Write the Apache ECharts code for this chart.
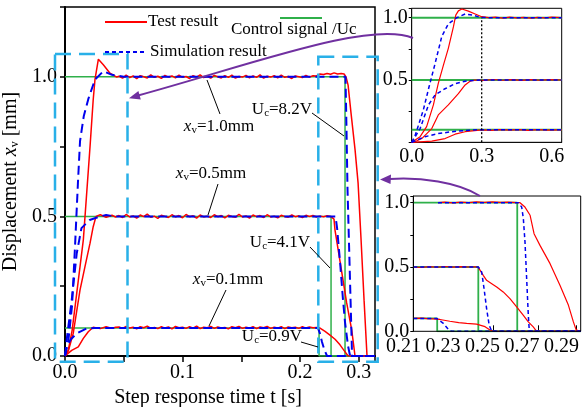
<!DOCTYPE html>
<html>
<head>
<meta charset="utf-8">
<script src="https://cdn.jsdelivr.net/npm/echarts@6/dist/echarts.min.js"></script>
<style>html,body{margin:0;padding:0;background:#fff;}#c{width:582px;height:407px;}</style>
</head>
<body>
<div id="c"></div>
<script>
// ---------- main chart (apparent time axis as drawn) ----------
const mainXLabelValues = [0, 0.1, 0.2, 0.25];
const mainXLabelTexts = ['0.0', '0.1', '0.2', '0.3'];
const mainYLabelValues = [0, 0.5, 1.0];

const tFlat = [0.046,0.049,0.052,0.055,0.058,0.061,0.064,0.067,0.070,0.073,0.076,0.079,0.082,0.085,0.088,0.091,0.094,0.097,0.100,0.103,0.106,0.109,0.112,0.115,0.118,0.121,0.124,0.127,0.130,0.133,0.136,0.139,0.142,0.145,0.148,0.151,0.154,0.157,0.160,0.163,0.166,0.169,0.172,0.175,0.178,0.181,0.184,0.187,0.190,0.193,0.196,0.199,0.202,0.205,0.208,0.211,0.214,0.217,0.220,0.223,0.226,0.229,0.232,0.235];

const red10Rise = [[0,0],[0.0028,0.021],[0.006,0.09],[0.01,0.225],[0.0156,0.416],[0.0213,0.75],[0.024,0.918],[0.0255,0.99],[0.0284,1.063],[0.0326,1.043],[0.0383,1.013],[0.044,0.999]];
const red10Flat = [1.002,0.995,1.006,0.997,1.003,0.993,1.004,1.000,0.996,1.007,0.998,1.002,0.994,1.005,0.999,1.003,0.996,1.006,0.998,1.001,0.994,1.004,0.999,1.007,0.997,1.002,0.995,1.005,1.000,0.996,1.004,0.998,1.006,0.995,1.001,0.999,1.005,0.996,1.003,0.998,1.007,0.995,1.002,0.999,1.004,0.996,1.006,0.998,1.001,0.994,1.003,1.000,0.997,1.005,0.999,1.004,1.003,1.010,1.008,1.012,1.009,1.014,1.010,1.012];
const red10Fall = [[0.2375,1.01],[0.2391,1.0],[0.2409,0.97],[0.2434,0.87],[0.2468,0.74],[0.2494,0.62],[0.2519,0.42],[0.2545,0.2],[0.257,0.0],[0.2638,0.0]];

const red05Rise = [[0,0],[0.003,0.02],[0.007,0.081],[0.0128,0.237],[0.017,0.32],[0.0213,0.404],[0.024,0.463],[0.0264,0.5],[0.03,0.506],[0.035,0.497],[0.04,0.504],[0.043,0.498]];
const red05Flat = [0.503,0.496,0.507,0.498,0.502,0.494,0.505,0.499,0.508,0.497,0.501,0.493,0.504,0.500,0.496,0.506,0.498,0.503,0.495,0.507,0.499,0.502,0.494,0.505,0.498,0.501,0.496,0.506,0.499,0.503,0.495,0.504,0.500,0.497,0.507,0.498,0.502,0.494,0.505,0.499,0.503,0.496,0.506,0.498,0.501,0.495,0.504,0.500,0.497,0.505,0.499,0.502,0.496,0.504,0.500,0.503,0.498,0.501,0.499,0.502,0.500];
const red05Fall = [[0.2272,0.5],[0.2289,0.49],[0.2298,0.45],[0.234,0.34],[0.2397,0.19],[0.244,0.093],[0.2468,0.0],[0.2638,0.0]];

const red01Rise = [[0,0],[0.0057,0.02],[0.0113,0.033],[0.0156,0.063],[0.0198,0.087],[0.024,0.103],[0.03,0.098],[0.035,0.105],[0.04,0.099],[0.043,0.103]];
const red01Flat = [0.104,0.099,0.106,0.100,0.103,0.097,0.105,0.101,0.107,0.099,0.102,0.098,0.105,0.100,0.104,0.097,0.106,0.101,0.103,0.099,0.105,0.100,0.107,0.098,0.103,0.101,0.106,0.099,0.104,0.100,0.102,0.097,0.105,0.101,0.106,0.099,0.103,0.100,0.105,0.098,0.104,0.101,0.106,0.099,0.103,0.100,0.105,0.098,0.104,0.101,0.103,0.099,0.105,0.100,0.104,0.101,0.102];
const red01Fall = [[0.217,0.1],[0.2213,0.088],[0.2255,0.075],[0.2298,0.06],[0.234,0.04],[0.2374,0.02],[0.2409,0.0],[0.2638,0.0]];

const blue10Main = [[0,0],[0.003,0.06],[0.006,0.18],[0.0085,0.39],[0.011,0.62],[0.0128,0.77],[0.016,0.86],[0.0198,0.92],[0.0255,0.99],[0.0326,1.02],[0.04,1.007],[0.05,1.0],[0.2387,1.0],[0.2396,0.8],[0.2404,0.6],[0.2417,0.4],[0.243,0.2],[0.2443,0.0],[0.2638,0.0]];
const blue05Main = [[0,0],[0.0014,0.057],[0.0057,0.2],[0.01,0.368],[0.014,0.458],[0.021,0.487],[0.03,0.5],[0.035,0.505],[0.042,0.5],[0.2302,0.5],[0.2315,0.46],[0.234,0.34],[0.2366,0.2],[0.2383,0.12],[0.2409,0.035],[0.2426,0.0],[0.2638,0.0]];
const blue01Main = [[0,0],[0.0014,0.033],[0.005,0.06],[0.01,0.081],[0.0184,0.099],[0.025,0.1],[0.2153,0.1],[0.217,0.08],[0.2187,0.05],[0.2209,0.02],[0.223,0.0],[0.2638,0.0]];

const green10Main = [[0,1],[0.2383,1],[0.2383,0],[0.2638,0]];
const green05Main = [[0,0.5],[0.2264,0.5],[0.2264,0],[0.2638,0]];
const green01Main = [[0,0.1],[0.2162,0.1],[0.2162,0],[0.2638,0]];

// ---------- top inset (rise) ----------
const topXLabelValues = [0, 0.3, 0.6];
const topYLabelValues = [0.5, 1.0];
const topRed10 = [[0,0],[0.007,0.005],[0.036,0.045],[0.064,0.126],[0.093,0.30],[0.114,0.473],[0.136,0.62],[0.157,0.754],[0.179,0.928],[0.189,1.021],[0.2,1.055],[0.215,1.07],[0.243,1.053],[0.272,1.03],[0.3,1.008],[0.33,1.0],[0.36,1.004],[0.39,0.997],[0.42,1.004],[0.45,0.998],[0.48,1.003],[0.51,0.996],[0.54,1.003],[0.57,0.998],[0.6,1.004],[0.643,1.0]];
const topBlue10 = [[0,0],[0.014,0.05],[0.05,0.26],[0.075,0.45],[0.1,0.63],[0.129,0.85],[0.157,0.95],[0.193,1.0],[0.229,1.03],[0.265,1.02],[0.293,1.003],[0.34,1.0],[0.643,1.0]];
const topRed05 = [[0,0],[0.02,0.01],[0.043,0.03],[0.086,0.11],[0.114,0.22],[0.157,0.3],[0.2,0.39],[0.229,0.46],[0.25,0.49],[0.27,0.5],[0.31,0.497],[0.35,0.504],[0.39,0.498],[0.43,0.503],[0.47,0.497],[0.51,0.503],[0.55,0.498],[0.59,0.503],[0.643,0.5]];
const topBlue05 = [[0,0],[0.007,0.02],[0.036,0.11],[0.072,0.3],[0.1,0.38],[0.143,0.43],[0.186,0.47],[0.229,0.49],[0.272,0.497],[0.3,0.5],[0.643,0.5]];
const topRed01 = [[0,0],[0.086,0.01],[0.143,0.03],[0.186,0.065],[0.229,0.085],[0.27,0.094],[0.3,0.1],[0.34,0.096],[0.38,0.102],[0.42,0.097],[0.46,0.101],[0.5,0.096],[0.54,0.102],[0.58,0.097],[0.643,0.1]];
const topBlue01 = [[0,0],[0.057,0.045],[0.114,0.07],[0.172,0.085],[0.229,0.094],[0.28,0.1],[0.643,0.1]];
const topGreenLevels = [1.0, 0.5, 0.1];
const topMarker = [[0.3,0],[0.3,1.0]];

// ---------- bottom inset (fall) ----------
const botXLabelValues = [0.21, 0.23, 0.25, 0.27, 0.29];
const botXTickValues = [0.2555, 0.2782, 0.2977];
const botYLabelValues = [0, 0.5, 1.0];
const botGreen10 = [[0.215,1],[0.2676,1],[0.2676,0],[0.2997,0]];
const botGreen05 = [[0.215,0.5],[0.2479,0.5],[0.2479,0],[0.2997,0]];
const botGreen01 = [[0.215,0.1],[0.2271,0.1],[0.2271,0],[0.2997,0]];
const botRed10 = [[0.2275,1.0],[0.231,1.004],[0.235,0.998],[0.239,1.005],[0.243,1.0],[0.247,1.006],[0.251,1.002],[0.255,1.007],[0.259,1.003],[0.263,1.005],[0.2675,1.001],[0.269,1.0],[0.2715,0.966],[0.2741,0.902],[0.2761,0.759],[0.2791,0.668],[0.2842,0.526],[0.2892,0.358],[0.2935,0.202],[0.296,0.073],[0.2973,0.016],[0.2985,0],[0.2997,0]];
const botBlue10 = [[0.2275,1.0],[0.2681,1.0],[0.26985,0.966],[0.27068,0.876],[0.27152,0.694],[0.27236,0.409],[0.2732,0.124],[0.27371,0],[0.2997,0]];
const botRed05 = [[0.215,0.5],[0.219,0.496],[0.223,0.503],[0.227,0.498],[0.231,0.504],[0.235,0.499],[0.239,0.503],[0.243,0.5],[0.2465,0.502],[0.2479,0.497],[0.2487,0.492],[0.2504,0.435],[0.2521,0.396],[0.2547,0.37],[0.2572,0.344],[0.2605,0.306],[0.2639,0.254],[0.2673,0.189],[0.2707,0.124],[0.2732,0.073],[0.2757,0.034],[0.2774,0],[0.2997,0]];
const botBlue05 = [[0.215,0.5],[0.2479,0.5],[0.2496,0.461],[0.2508,0.332],[0.2521,0.176],[0.2534,0.047],[0.2547,0],[0.2997,0]];
const botRed01 = [[0.215,0.1],[0.219,0.102],[0.222,0.098],[0.2251,0.096],[0.2285,0.092],[0.2335,0.078],[0.238,0.068],[0.242,0.062],[0.247,0.056],[0.2513,0.036],[0.2538,0.01],[0.2555,0],[0.2997,0]];
const botBlue01 = [[0.215,0.1],[0.2268,0.1],[0.2302,0.062],[0.2327,0.016],[0.2344,0],[0.2997,0]];

// ---------- styling ----------
const FONT = 'Liberation Serif';
const RED = '#ff0000', BLUE = '#0000ee', GREEN = '#2fb04a', CYAN = '#29b0e8', PURPLE = '#7030a0';

function withFlat(rise, times, vals, fall) {
  const flat = [];
  const n = Math.min(times.length, vals.length);
  for (let i = 0; i < n; i++) flat.push([times[i], vals[i]]);
  return rise.concat(flat, fall);
}
function ln(data, color, width, type, gi, z) {
  return { type: 'line', data: data, xAxisIndex: gi, yAxisIndex: gi, symbol: 'none', silent: true,
    animation: false, z: z || 2, lineStyle: { color: color, width: width, type: type || 'solid' } };
}
function findText(vals, texts, v) {
  for (let i = 0; i < vals.length; i++) if (Math.abs(vals[i] - v) < 1e-9) return texts[i];
  return '';
}
const labelStyle = { fontFamily: FONT, fontSize: 20, color: '#000' };

const series = [
  ln(green10Main, GREEN, 1.5, 'solid', 0, 2), ln(green05Main, GREEN, 1.5, 'solid', 0, 2), ln(green01Main, GREEN, 1.5, 'solid', 0, 2),
  ln(withFlat(red10Rise, tFlat, red10Flat, red10Fall), RED, 1.5, 'solid', 0, 3),
  ln(withFlat(red05Rise, tFlat, red05Flat, red05Fall), RED, 1.5, 'solid', 0, 3),
  ln(withFlat(red01Rise, tFlat, red01Flat, red01Fall), RED, 1.5, 'solid', 0, 3),
  ln(blue10Main, BLUE, 2, [9, 5], 0, 4), ln(blue05Main, BLUE, 2, [9, 5], 0, 4), ln(blue01Main, BLUE, 2, [9, 5], 0, 4),
];
topGreenLevels.forEach(L => series.push(ln([[0, L], [0.643, L]], GREEN, 2, 'solid', 1, 2)));
[topRed10, topRed05, topRed01].forEach(d => series.push(ln(d, RED, 1.2, 'solid', 1, 3)));
[topBlue10, topBlue05, topBlue01].forEach(d => series.push(ln(d, BLUE, 1.5, [4, 3], 1, 4)));
series.push(ln(topMarker, '#000', 1.3, [2, 2], 1, 5));
[botGreen10, botGreen05, botGreen01].forEach(d => series.push(ln(d, GREEN, 1.8, 'solid', 2, 2)));
[botRed10, botRed05, botRed01].forEach(d => series.push(ln(d, RED, 1.2, 'solid', 2, 3)));
[botBlue10, botBlue05, botBlue01].forEach(d => series.push(ln(d, BLUE, 1.5, [4, 3], 2, 4)));

const richSub = {
  a: { fontFamily: FONT, fontSize: 17, color: '#000' },
  i: { fontFamily: FONT, fontSize: 17, fontStyle: 'italic', color: '#000' },
  s: { fontFamily: FONT, fontSize: 11, color: '#000', verticalAlign: 'bottom', padding: [6, 0, 0, 0] }
};
function annot(txt, x, y) {
  return { type: 'text', z: 100, style: { text: txt, x: x, y: y, align: 'center', verticalAlign: 'middle', rich: richSub } };
}
function seg(x1, y1, x2, y2, color, w, dash) {
  return { type: 'line', z: 100, shape: { x1, y1, x2, y2 }, style: { stroke: color, lineWidth: w, lineDash: dash || null } };
}
function txt(t, x, y, size) {
  return { type: 'text', z: 100, style: { text: t, x: x, y: y, align: 'left', verticalAlign: 'middle', fontFamily: FONT, fontSize: size, fill: '#000' } };
}

const graphic = [
  // legend
  seg(105, 22, 147, 22, RED, 2), txt('Test result', 148, 22, 17),
  seg(105, 52, 147, 52, BLUE, 2, [4, 3]), txt('Simulation result', 150, 52, 17),
  seg(280, 18, 322, 18, GREEN, 2), txt('Control signal /Uc', 231, 30, 17),
  // annotations
  annot('{i|x}{s|v}{a|=1.0mm}', 219, 127), seg(207, 80, 220, 114, '#000', 1),
  annot('{a|U}{s|c}{a|=8.2V}', 282, 110), seg(312, 113, 344, 136, '#000', 1),
  annot('{i|x}{s|v}{a|=0.5mm}', 211, 174), seg(218, 184, 208, 215, '#000', 1),
  annot('{a|U}{s|c}{a|=4.1V}', 280, 243), seg(310, 247, 330, 268, '#000', 1),
  annot('{i|x}{s|v}{a|=0.1mm}', 228, 280), seg(226, 290, 209, 326, '#000', 1),
  annot('{a|U}{s|c}{a|=0.9V}', 272, 337), seg(301, 342, 318, 347, '#000', 1),
  // dashed zoom frames
  { type: 'rect', z: 90, shape: { x: 55, y: 54, width: 72.5, height: 307.7 }, style: { fill: 'none', stroke: CYAN, lineWidth: 2.5, lineDash: [16, 8] } },
  { type: 'rect', z: 90, shape: { x: 318.3, y: 56.7, width: 59.4, height: 305 }, style: { fill: 'none', stroke: CYAN, lineWidth: 2.5, lineDash: [16, 8] } },
  // bottom inset frame
  { type: 'rect', z: 50, shape: { x: 413.3, y: 196, width: 167.4, height: 135.3 }, style: { fill: 'none', stroke: '#000', lineWidth: 1 } },
  // arrows
  { type: 'bezierCurve', z: 110, shape: { x1: 413, y1: 38, cpx1: 370, cpy1: 20, cpx2: 250, cpy2: 65, x2: 138, y2: 95.5 }, style: { fill: 'none', stroke: PURPLE, lineWidth: 2 } },
  { type: 'polygon', z: 110, shape: { points: [[129, 98.3], [138.4, 91.0], [140.8, 99.6]] }, style: { fill: PURPLE } },
  { type: 'bezierCurve', z: 110, shape: { x1: 480, y1: 196, cpx1: 458, cpy1: 182, cpx2: 420, cpy2: 177, x2: 390, y2: 179 }, style: { fill: 'none', stroke: PURPLE, lineWidth: 2 } },
  { type: 'polygon', z: 110, shape: { points: [[380, 179.5], [391, 174.5], [390.5, 184]] }, style: { fill: PURPLE } }
];

const option = {
  backgroundColor: '#fff',
  animation: false,
  grid: [
    { left: 65, top: 7, width: 310, height: 349, show: true, borderColor: '#000', borderWidth: 1.5, backgroundColor: 'transparent', outerBoundsMode: 'none', containLabel: false },
    { left: 411.7, top: 8.3, width: 150, height: 134, show: true, borderColor: '#000', borderWidth: 1, backgroundColor: '#fff', z: 1, outerBoundsMode: 'none', containLabel: false },
    { left: 403.4, top: 196, width: 177.3, height: 135.3, show: false, outerBoundsMode: 'none', containLabel: false }
  ],
  xAxis: [
    { gridIndex: 0, type: 'value', min: 0, max: 0.2638, interval: 0.05,
      axisLine: { show: true, lineStyle: { color: '#000', width: 2 } },
      axisTick: { show: true, length: 6, lineStyle: { color: '#000', width: 1.5 } },
      axisLabel: Object.assign({ customValues: mainXLabelValues, margin: 7,
        formatter: v => findText(mainXLabelValues, mainXLabelTexts, v) }, labelStyle),
      splitLine: { show: false },
      name: 'Step response time t [s]', nameLocation: 'middle', nameGap: 26,
      nameTextStyle: { fontFamily: FONT, fontSize: 20, color: '#000', padding: [0, 24, 0, 0] } },
    { gridIndex: 1, type: 'value', min: 0, max: 0.643, interval: 0.05,
      axisLine: { show: true, lineStyle: { color: '#000', width: 1 } },
      axisTick: { show: true, inside: true, length: 4, lineStyle: { color: '#000', width: 1 } },
      axisLabel: Object.assign({ customValues: topXLabelValues, margin: 4, formatter: v => v.toFixed(1) }, labelStyle),
      splitLine: { show: false } },
    { gridIndex: 2, type: 'value', min: 0.21, max: 0.2997,
      axisLine: { show: false },
      axisTick: { show: true, inside: true, length: 6, customValues: botXTickValues, lineStyle: { color: '#000', width: 1 } },
      axisLabel: Object.assign({ customValues: botXLabelValues, margin: 5, formatter: v => v.toFixed(2) }, labelStyle),
      splitLine: { show: false } }
  ],
  yAxis: [
    { gridIndex: 0, type: 'value', min: 0, max: 1.25, interval: 0.25,
      axisLine: { show: true, lineStyle: { color: '#000', width: 2 } },
      axisTick: { show: true, length: 5, lineStyle: { color: '#000', width: 1.5 } },
      axisLabel: Object.assign({ customValues: mainYLabelValues, margin: 8, formatter: v => v.toFixed(1) }, labelStyle),
      splitLine: { show: false },
      name: '{a|Displacement }{i|x}{s|v}{a| [mm]}', nameLocation: 'middle', nameGap: 36, nameRotate: 90,
      nameTextStyle: { rich: {
        a: { fontFamily: FONT, fontSize: 20, color: '#000' },
        i: { fontFamily: FONT, fontSize: 20, fontStyle: 'italic', color: '#000' },
        s: { fontFamily: FONT, fontSize: 12, color: '#000', verticalAlign: 'bottom', padding: [6, 0, 0, 0] } } } },
    { gridIndex: 1, type: 'value', min: 0, max: 1.0755, interval: 0.25,
      axisLine: { show: true, lineStyle: { color: '#000', width: 1 } },
      axisTick: { show: true, length: 3, lineStyle: { color: '#000', width: 1 } },
      axisLabel: Object.assign({ customValues: topYLabelValues, margin: 4, formatter: v => v.toFixed(1) }, labelStyle),
      splitLine: { show: false } },
    { gridIndex: 2, type: 'value', min: 0, max: 1.052, interval: 0.25, offset: -9.9,
      axisLine: { show: true, lineStyle: { color: '#000', width: 1 } },
      axisTick: { show: true, length: 3, lineStyle: { color: '#000', width: 1 } },
      axisLabel: Object.assign({ customValues: botYLabelValues, margin: 4, formatter: v => v.toFixed(1) }, labelStyle),
      splitLine: { show: false } }
  ],
  series: series,
  graphic: graphic
};

const chart = echarts.init(document.getElementById('c'), null, { renderer: 'canvas' });
chart.setOption(option);
</script>
</body>
</html>
